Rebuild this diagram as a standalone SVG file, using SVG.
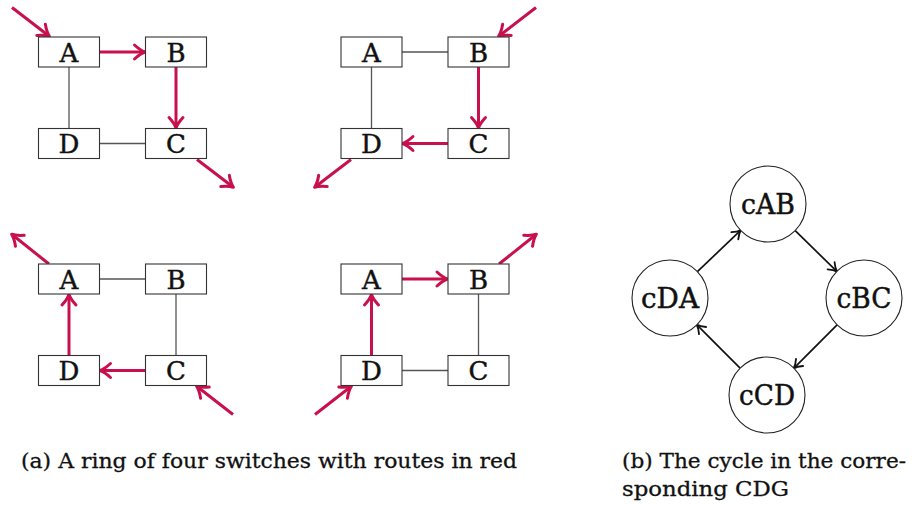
<svg xmlns="http://www.w3.org/2000/svg" width="914" height="507" viewBox="0 0 914 507">
<style>
.box{fill:#fff;stroke:#333;stroke-width:1.1}
.lbl{font-family:"DejaVu Serif","Liberation Serif",serif;font-size:26px;fill:#111;stroke:#111;stroke-width:0.45;text-anchor:middle}
.clbl{font-family:"DejaVu Serif","Liberation Serif",serif;font-size:27px;fill:#111;stroke:#111;stroke-width:0.45;text-anchor:middle}
.cap{font-family:"DejaVu Serif","Liberation Serif",serif;font-size:21px;fill:#111;stroke:#111;stroke-width:0.3}
.link{stroke:#555;stroke-width:1.3;fill:none}
.route{stroke:#C8104D;stroke-width:3;fill:none;marker-end:url(#red)}
.dep{stroke:#111;stroke-width:1.7;fill:none;marker-end:url(#blk)}
.circ{fill:#fff;stroke:#222;stroke-width:1.1}
</style>
<defs>
<marker id="red" markerUnits="userSpaceOnUse" orient="auto" overflow="visible" markerWidth="1" markerHeight="1" refX="0" refY="0">
<path d="M-10,-7 Q-4,-1.5 0.5,0 Q-4,1.5 -10,7" fill="none" stroke="#C8104D" stroke-width="3" stroke-linecap="round" stroke-linejoin="round"/>
</marker>
<marker id="blk" markerUnits="userSpaceOnUse" orient="auto" overflow="visible" markerWidth="1" markerHeight="1" refX="0" refY="0">
<path d="M-8,-5 Q-3.5,-1 0.5,0 Q-3.5,1 -8,5" fill="none" stroke="#111" stroke-width="1.8" stroke-linecap="round" stroke-linejoin="round"/>
</marker>
</defs>

<g id="connectors">
<!-- top-left -->
<line class="link" x1="69" y1="67" x2="69" y2="128.5"/>
<line class="link" x1="99.5" y1="143.5" x2="145.5" y2="143.5"/>
<line class="route" x1="12" y1="7.5" x2="49" y2="36"/>
<line class="route" x1="99.5" y1="52" x2="144.5" y2="52"/>
<line class="route" x1="176" y1="67" x2="176" y2="127.5"/>
<line class="route" x1="197" y1="159.5" x2="233" y2="187"/>
<!-- top-right -->
<line class="link" x1="402" y1="52" x2="448" y2="52"/>
<line class="link" x1="371.5" y1="67" x2="371.5" y2="128.5"/>
<line class="route" x1="536" y1="7.5" x2="499" y2="36"/>
<line class="route" x1="478.5" y1="67" x2="478.5" y2="127.5"/>
<line class="route" x1="448" y1="143.5" x2="403" y2="143.5"/>
<line class="route" x1="351" y1="159.5" x2="315" y2="187"/>
<!-- bottom-left -->
<line class="link" x1="99.5" y1="279" x2="145.5" y2="279"/>
<line class="link" x1="176" y1="294" x2="176" y2="355.5"/>
<line class="route" x1="49" y1="264" x2="12" y2="234.5"/>
<line class="route" x1="69" y1="355.5" x2="69" y2="295"/>
<line class="route" x1="145.5" y1="370.5" x2="100.5" y2="370.5"/>
<line class="route" x1="233" y1="414.5" x2="197" y2="386.5"/>
<!-- bottom-right -->
<line class="link" x1="402" y1="370.5" x2="448" y2="370.5"/>
<line class="link" x1="478.5" y1="294" x2="478.5" y2="355.5"/>
<line class="route" x1="315" y1="414.5" x2="351" y2="386.5"/>
<line class="route" x1="371.5" y1="355.5" x2="371.5" y2="295"/>
<line class="route" x1="402" y1="279" x2="447" y2="279"/>
<line class="route" x1="499" y1="264" x2="536" y2="234.5"/>
<!-- CDG -->
<line class="dep" x1="697.4" y1="271.7" x2="740.6" y2="230.3"/>
<line class="dep" x1="795.2" y1="230.6" x2="836.8" y2="271.4"/>
<line class="dep" x1="837.1" y1="324.9" x2="793.9" y2="368.1"/>
<line class="dep" x1="740.1" y1="368.1" x2="696.9" y2="324.9"/>
</g>

<g id="tl-A"><rect class="box" x="38.5" y="37" width="61" height="30"/><text class="lbl" x="69" y="61.5">A</text></g>
<g id="tl-B"><rect class="box" x="145.5" y="37" width="61" height="30"/><text class="lbl" x="176" y="61.5">B</text></g>
<g id="tl-D"><rect class="box" x="38.5" y="128.5" width="61" height="30"/><text class="lbl" x="69" y="153">D</text></g>
<g id="tl-C"><rect class="box" x="145.5" y="128.5" width="61" height="30"/><text class="lbl" x="176" y="153">C</text></g>

<g id="tr-A"><rect class="box" x="341" y="37" width="61" height="30"/><text class="lbl" x="371.5" y="61.5">A</text></g>
<g id="tr-B"><rect class="box" x="448" y="37" width="61" height="30"/><text class="lbl" x="478.5" y="61.5">B</text></g>
<g id="tr-D"><rect class="box" x="341" y="128.5" width="61" height="30"/><text class="lbl" x="371.5" y="153">D</text></g>
<g id="tr-C"><rect class="box" x="448" y="128.5" width="61" height="30"/><text class="lbl" x="478.5" y="153">C</text></g>

<g id="bl-A"><rect class="box" x="38.5" y="264" width="61" height="30"/><text class="lbl" x="69" y="288.5">A</text></g>
<g id="bl-B"><rect class="box" x="145.5" y="264" width="61" height="30"/><text class="lbl" x="176" y="288.5">B</text></g>
<g id="bl-D"><rect class="box" x="38.5" y="355.5" width="61" height="30"/><text class="lbl" x="69" y="380">D</text></g>
<g id="bl-C"><rect class="box" x="145.5" y="355.5" width="61" height="30"/><text class="lbl" x="176" y="380">C</text></g>

<g id="br-A"><rect class="box" x="341" y="264" width="61" height="30"/><text class="lbl" x="371.5" y="288.5">A</text></g>
<g id="br-B"><rect class="box" x="448" y="264" width="61" height="30"/><text class="lbl" x="478.5" y="288.5">B</text></g>
<g id="br-D"><rect class="box" x="341" y="355.5" width="61" height="30"/><text class="lbl" x="371.5" y="380">D</text></g>
<g id="br-C"><rect class="box" x="448" y="355.5" width="61" height="30"/><text class="lbl" x="478.5" y="380">C</text></g>

<g id="cAB"><circle class="circ" cx="768" cy="204" r="38"/><text class="clbl" x="768" y="214" textLength="54" lengthAdjust="spacingAndGlyphs">cAB</text></g>
<g id="cBC"><circle class="circ" cx="864" cy="298" r="38"/><text class="clbl" x="864" y="308" textLength="55" lengthAdjust="spacingAndGlyphs">cBC</text></g>
<g id="cCD"><circle class="circ" cx="767" cy="395" r="38"/><text class="clbl" x="767" y="405" textLength="56" lengthAdjust="spacingAndGlyphs">cCD</text></g>
<g id="cDA"><circle class="circ" cx="670" cy="298" r="38"/><text class="clbl" x="670" y="308" textLength="58" lengthAdjust="spacingAndGlyphs">cDA</text></g>

<g id="captions">
<text class="cap" x="21" y="468" textLength="496" lengthAdjust="spacingAndGlyphs">(a) A ring of four switches with routes in red</text>
<text class="cap" x="622" y="468" textLength="284" lengthAdjust="spacingAndGlyphs">(b) The cycle in the corre-</text>
<text class="cap" x="622" y="496" textLength="167" lengthAdjust="spacingAndGlyphs">sponding CDG</text>
</g>
</svg>
